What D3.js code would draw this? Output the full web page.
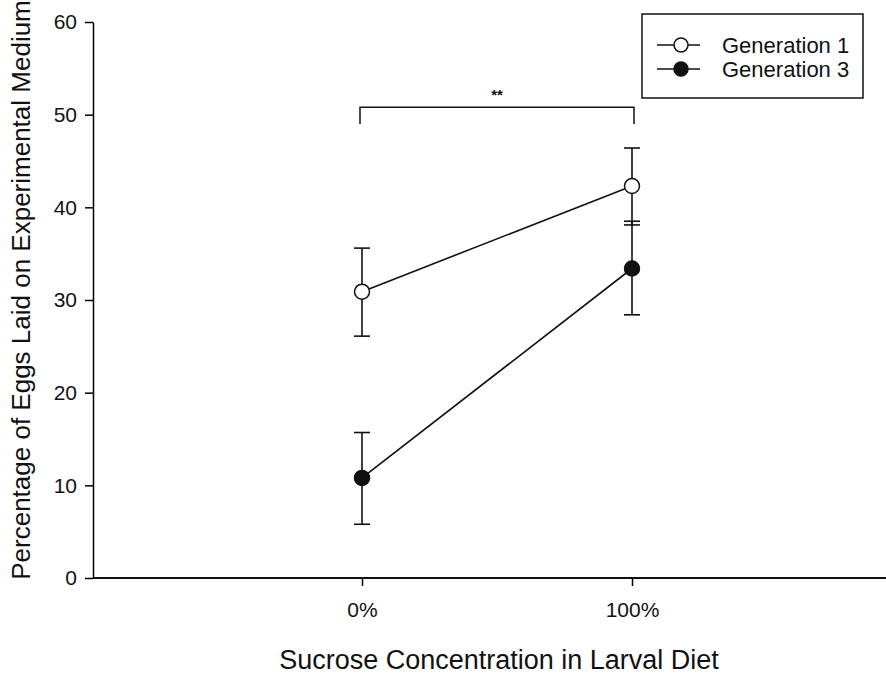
<!DOCTYPE html>
<html>
<head>
<meta charset="utf-8">
<script src="https://cdn.jsdelivr.net/npm/d3@7"></script>
<style>
  body { margin: 0; background: #fff; }
  svg { display: block; font-family: "Liberation Sans", Arial, sans-serif; }
</style>
</head>
<body>
<div id="root"></div>
<script>
// data
const categories = ["0%", "100%"];
const gen1Mean = [30.9, 42.3];
const gen1Low = [26.1, 38.1];
const gen1High = [35.6, 46.4];
const gen3Mean = [10.8, 33.4];
const gen3Low = [5.8, 28.4];
const gen3High = [15.7, 38.5];
const yTicks = [0, 10, 20, 30, 40, 50, 60];
const seriesNames = ["Generation 1", "Generation 3"];
const bracket = { from: 0, to: 1, top: 50.8, foot: 49.0, label: "**" };

const w = 886, h = 674;
const margin = { top: 22, left: 93, bottom: 96 };

const svg = d3.select("#root").append("svg")
  .attr("width", w)
  .attr("height", h);

const x = d3.scaleLinear().domain([-1, 2]).range([92, 902]);
const y = d3.scaleLinear().domain([0, 60]).range([h - margin.bottom, margin.top]);

// axes
const yAxis = svg.append("g")
  .attr("transform", "translate(" + margin.left + ",0)")
  .call(d3.axisLeft(y).tickValues(yTicks).tickSize(8).tickPadding(8).tickSizeOuter(0));
yAxis.select(".domain").attr("stroke-width", 1.5);
yAxis.selectAll("line").attr("stroke-width", 1.5);
yAxis.selectAll("text").style("font-size", "21px").attr("fill", "#111");

svg.append("line")
  .attr("x1", margin.left).attr("x2", w)
  .attr("y1", y(0)).attr("y2", y(0))
  .attr("stroke", "#111").attr("stroke-width", 2);

const xAxis = svg.append("g")
  .attr("transform", "translate(0," + y(0) + ")")
  .call(d3.axisBottom(x).tickValues([0, 1]).tickFormat((d, i) => categories[i])
    .tickSize(8).tickPadding(16).tickSizeOuter(0));
xAxis.select(".domain").remove();
xAxis.selectAll("line").attr("stroke-width", 1.5);
xAxis.selectAll("text").style("font-size", "21px").attr("fill", "#111");

// axis titles
svg.append("text")
  .attr("x", 499)
  .attr("y", 669)
  .style("text-anchor", "middle")
  .style("font-size", "27px")
  .attr("fill", "#111")
  .text("Sucrose Concentration in Larval Diet");

svg.append("text")
  .attr("transform", "rotate(-90)")
  .attr("x", -290)
  .attr("y", 30)
  .style("text-anchor", "middle")
  .style("font-size", "26px")
  .attr("fill", "#111")
  .text("Percentage of Eggs Laid on Experimental Medium");

// series
const series = [
  { mean: gen1Mean, low: gen1Low, high: gen1High, fill: "#fff" },
  { mean: gen3Mean, low: gen3Low, high: gen3High, fill: "#111" }
];

const line = d3.line().x((d, i) => x(i)).y(d => y(d));
const capHalf = 8;

series.forEach(s => {
  const g = svg.append("g");
  s.mean.forEach((m, i) => {
    g.append("line")
      .attr("x1", x(i)).attr("x2", x(i))
      .attr("y1", y(s.low[i])).attr("y2", y(s.high[i]))
      .attr("stroke", "#111").attr("stroke-width", 1.6);
    [s.low[i], s.high[i]].forEach(v => {
      g.append("line")
        .attr("x1", x(i) - capHalf).attr("x2", x(i) + capHalf)
        .attr("y1", y(v)).attr("y2", y(v))
        .attr("stroke", "#111").attr("stroke-width", 1.6);
    });
  });
  g.append("path")
    .attr("d", line(s.mean))
    .attr("fill", "none")
    .attr("stroke", "#111")
    .attr("stroke-width", 1.6);
  g.selectAll("circle")
    .data(s.mean)
    .enter().append("circle")
    .attr("cx", (d, i) => x(i))
    .attr("cy", d => y(d))
    .attr("r", 7.5)
    .attr("fill", s.fill)
    .attr("stroke", "#111")
    .attr("stroke-width", 1.5);
});

// significance bracket
const bx0 = x(bracket.from) - 2, bx1 = x(bracket.to) + 2;
svg.append("path")
  .attr("d", "M" + bx0 + "," + y(bracket.foot) + "V" + y(bracket.top) + "H" + bx1 + "V" + y(bracket.foot))
  .attr("fill", "none")
  .attr("stroke", "#111")
  .attr("stroke-width", 1.5);
svg.append("text")
  .attr("x", (bx0 + bx1) / 2)
  .attr("y", 100)
  .style("text-anchor", "middle")
  .style("font-size", "15px")
  .style("font-weight", "bold")
  .attr("fill", "#111")
  .text(bracket.label);

// legend
const legend = svg.append("g");
legend.append("rect")
  .attr("x", 642).attr("y", 14)
  .attr("width", 221).attr("height", 84)
  .attr("fill", "#fff")
  .attr("stroke", "#111")
  .attr("stroke-width", 1.5);
seriesNames.forEach((name, i) => {
  const ly = 45 + i * 24;
  legend.append("line")
    .attr("x1", 657).attr("x2", 700)
    .attr("y1", ly).attr("y2", ly)
    .attr("stroke", "#111").attr("stroke-width", 1.6);
  legend.append("circle")
    .attr("cx", 681).attr("cy", ly).attr("r", 7)
    .attr("fill", series[i].fill)
    .attr("stroke", "#111").attr("stroke-width", 1.5);
  legend.append("text")
    .attr("x", 722).attr("y", ly + 8)
    .style("font-size", "22px")
    .attr("fill", "#111")
    .text(name);
});
</script>
</body>
</html>
